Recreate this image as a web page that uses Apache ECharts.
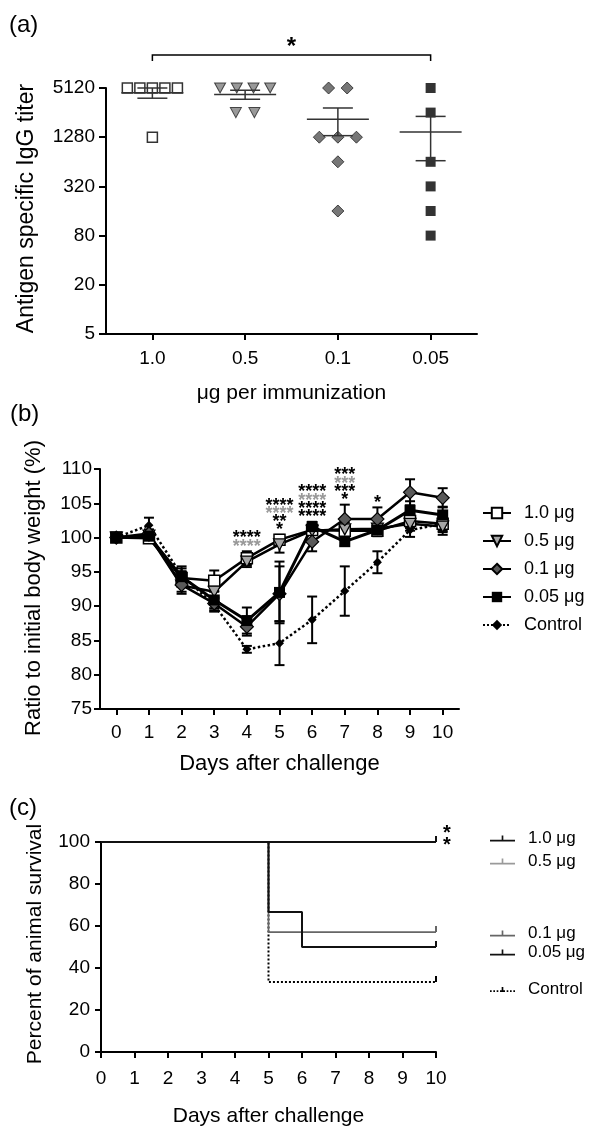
<!DOCTYPE html>
<html>
<head>
<meta charset="utf-8">
<script src="https://cdn.jsdelivr.net/npm/echarts@6/dist/echarts.min.js"></script>
<style>
  html, body { margin: 0; padding: 0; background: #fff; }
  #main { width: 590px; height: 1128px; }
</style>
</head>
<body>
<div id="main"></div>
<script>
// (a) antigen specific IgG titer per mouse
const doseGroups = ['1.0', '0.5', '0.1', '0.05'];
const titerTicks = [5, 20, 80, 320, 1280, 5120];
const titer10 = [5120, 5120, 5120, 5120, 5120, 1280];
const titer05 = [5120, 5120, 5120, 5120, 2560, 2560];
const titer01 = [5120, 5120, 1280, 1280, 1280, 640, 160];
const titer005 = [5120, 2560, 640, 320, 160, 80];
const titerMean = [4480, 4267, 2126, 1480];
const titerSem = [640, 540, 789, 820];

// (b) body weight (% of day 0), mean and SEM
const days = ['0', '1', '2', '3', '4', '5', '6', '7', '8', '9', '10'];
const weight10 = [100, 99.9, 94.1, 93.7, 97.0, 99.7, 101.1, 101.0, 101.0, 102.4, 102.0];
const sem10 = [0, 0.5, 1.0, 1.5, 1.0, 0.7, 0.5, 0.8, 0.8, 1.0, 1.0];
const weight05 = [100, 100.3, 93.0, 92.1, 96.5, 99.0, 101.0, 101.2, 101.3, 102.0, 101.6];
const sem05 = [0, 0.5, 1.2, 1.0, 0.8, 1.2, 0.6, 1.0, 0.7, 1.0, 1.2];
const weight01 = [100, 100.6, 93.1, 90.4, 87.0, 91.8, 99.4, 102.7, 102.7, 106.6, 105.8];
const sem01 = [0, 0.6, 1.0, 1.0, 1.3, 4.0, 1.4, 2.1, 1.7, 1.9, 1.4];
const weight005 = [100, 100.2, 94.3, 90.9, 87.9, 92.0, 101.6, 99.4, 101.1, 104.0, 103.3];
const sem005 = [0, 0.5, 1.5, 1.2, 1.9, 4.5, 0.7, 0.6, 0.7, 1.3, 1.2];
const weightCtrl = [100, 101.8, 94.5, 90.2, 83.7, 84.6, 88.0, 92.2, 96.4, 101.1, 102.0];
const semCtrl = [0, 1.1, 1.0, 1.0, 0.5, 3.2, 3.4, 3.6, 1.6, 1.0, 1.2];
// significance vs control, per day
const sig10 = ['', '', '', '', '****', '****', '****', '***', '', '', ''];
const sig05 = ['', '', '', '', '****', '****', '****', '***', '', '', ''];
const sig01 = ['', '', '', '', '', '**', '****', '***', '*', '', ''];
const sig005 = ['', '', '', '', '', '*', '****', '*', '', '', ''];

// (c) survival [day, percent]
const surv10 = [[0, 100], [10, 100]];
const surv05 = [[0, 100], [10, 100]];
const surv01 = [[0, 100], [5, 57.1], [10, 57.1]];
const surv005 = [[0, 100], [5, 66.7], [6, 50], [10, 50]];
const survCtrl = [[0, 100], [5, 33.3], [10, 33.3]];

const FONT = '"Liberation Sans", Arial, sans-serif';
const chart = echarts.init(document.getElementById('main'));

// log4 scale for titers, 0 = 5
const lg = v => Math.log(v / titerTicks[0]) / Math.log(4);

function jitter(vals, gi) {
  const counts = {}, seen = {};
  vals.forEach(v => { counts[v] = (counts[v] || 0) + 1; });
  return vals.map(v => {
    const n = counts[v];
    const k = seen[v] = seen[v] === undefined ? 0 : seen[v] + 1;
    const step = n > 1 ? Math.min(0.2, 0.54 / (n - 1)) : 0;
    return [gi + (k - (n - 1) / 2) * step, lg(v)];
  });
}

function meanSemItem(params, api) {
  const x = api.value(0);
  const c = api.coord([x, api.value(1)]);
  const hi = api.coord([x, api.value(2)]);
  const lo = api.coord([x, api.value(3)]);
  const st = { stroke: '#333', lineWidth: 1.5 };
  return {
    type: 'group', children: [
      { type: 'line', shape: { x1: c[0] - 31, y1: c[1], x2: c[0] + 31, y2: c[1] }, style: st },
      { type: 'line', shape: { x1: c[0], y1: hi[1], x2: c[0], y2: lo[1] }, style: st },
      { type: 'line', shape: { x1: c[0] - 15, y1: hi[1], x2: c[0] + 15, y2: hi[1] }, style: st },
      { type: 'line', shape: { x1: c[0] - 15, y1: lo[1], x2: c[0] + 15, y2: lo[1] }, style: st }
    ]
  };
}

function starText(x, y, text, size, color) {
  return {
    type: 'text', x: x, y: y + size * 0.24,
    style: { text: text, fill: color, font: 'bold ' + size + 'px ' + FONT,
      align: 'center', verticalAlign: 'middle', textAlign: 'center', textVerticalAlign: 'middle' }
  };
}

function bracketItem(params, api) {
  const l = api.coord([api.value(0), api.value(2)]);
  const r = api.coord([api.value(1), api.value(2)]);
  const yb = l[1] - 33;
  const st = { stroke: '#000', lineWidth: 1.5 };
  return {
    type: 'group', children: [
      { type: 'polyline', shape: { points: [[l[0], yb + 6], [l[0], yb], [r[0], yb], [r[0], yb + 6]] }, style: Object.assign({ fill: null }, st) },
      starText((l[0] + r[0]) / 2, yb - 13, '*', 24, '#000')
    ]
  };
}

function errItem(params, api) {
  const x = api.value(0), m = api.value(1), s = api.value(2);
  if (!s) return null;
  const hi = api.coord([x, m + s]);
  const lo = api.coord([x, m - s]);
  const st = { stroke: '#000', lineWidth: 2 };
  return {
    type: 'group', children: [
      { type: 'line', shape: { x1: hi[0], y1: hi[1], x2: lo[0], y2: lo[1] }, style: st },
      { type: 'line', shape: { x1: hi[0] - 5, y1: hi[1], x2: hi[0] + 5, y2: hi[1] }, style: st },
      { type: 'line', shape: { x1: lo[0] - 5, y1: lo[1], x2: lo[0] + 5, y2: lo[1] }, style: st }
    ]
  };
}

const bodyMeans = [weight10, weight05, weight01, weight005, weightCtrl];
const bodySems = [sem10, sem05, sem01, sem005, semCtrl];
const sigGroups = [sig10, sig05, sig01, sig005];
const sigColors = ['#000', '#999', '#000', '#000'];
const sigData = days.map((d, i) => [i, Math.max.apply(null, bodyMeans.map((m, g) => m[i] + bodySems[g][i]))]);

function sigItem(params, api) {
  const i = params.dataIndex;
  const rows = sigGroups.map((s, g) => ({ t: s[i], c: sigColors[g] })).filter(r => r.t);
  if (!rows.length) return null;
  const p = api.coord([api.value(0), api.value(1)]);
  return {
    type: 'group',
    children: rows.map((r, k) => starText(p[0], p[1] - 9 - (rows.length - 1 - k) * 8.2, r.t, 18, r.c))
  };
}

function survStarItem(params, api) {
  const p = api.coord([api.value(0), api.value(1)]);
  return {
    type: 'group', children: [
      starText(p[0] + 11, p[1] - 13, '*', 20, '#000'),
      starText(p[0] + 11, p[1] - 1, '*', 20, '#000')
    ]
  };
}

const downTri = 'path://M0,0L10,0L5,9Z';

function axisBase(extra) {
  return Object.assign({
    axisLine: { show: true, onZero: false, lineStyle: { color: '#000', width: 2 } },
    axisTick: { show: true, length: 6, lineStyle: { color: '#000', width: 2 } },
    axisLabel: { color: '#000', fontSize: 19, fontFamily: FONT },
    splitLine: { show: false },
    nameLocation: 'middle',
    nameTextStyle: { color: '#000', fontSize: 21, fontFamily: FONT }
  }, extra);
}

function errSeries(name, means, sems) {
  return {
    type: 'custom', name: name, xAxisIndex: 2, yAxisIndex: 1, z: 1, clip: false,
    renderItem: errItem, data: means.map((m, i) => [i, m, sems[i]])
  };
}

function survSeries(name, data, color, width, type, z) {
  return {
    type: 'line', name: name, xAxisIndex: 3, yAxisIndex: 2, step: 'end', z: z,
    symbol: 'none',
    itemStyle: { color: color },
    lineStyle: { color: color, width: width, type: type },
    data: data.map((p, i) => i === data.length - 1
      ? { value: p, symbol: 'rect', symbolSize: [2, 6], symbolOffset: [0, -3] }
      : p)
  };
}

const survIcon = 'path://M0,9L30,9L30,11L0,11Z M14,4L16,4L16,10L14,10Z';
const survDotIcon = 'path://M0,9L2,9L2,11L0,11Z M4,9L6,9L6,11L4,11Z M8,9L10,9L10,11L8,11Z M12,9L18,9L18,11L12,11Z M14,5L16,5L16,10L14,10Z M20,9L22,9L22,11L20,11Z M24,9L26,9L26,11L24,11Z M28,9L30,9L30,11L28,11Z';

function survLegend(names, top, gap) {
  return {
    data: names.map(n => ({ name: n, icon: n === 'c:Control' ? survDotIcon : survIcon })),
    formatter: n => n.slice(2),
    orient: 'vertical', left: 490, top: top, padding: 0,
    itemWidth: 25, itemHeight: 10, itemGap: gap,
    textStyle: { fontSize: 17, color: '#000', fontFamily: FONT, padding: [0, 0, 0, 8] }
  };
}

const option = {
  animation: false,
  backgroundColor: '#fff',
  textStyle: { fontFamily: FONT, color: '#000' },
  graphic: [
    { type: 'text', left: 9, top: 13, style: { text: '(a)', font: '24px ' + FONT, fill: '#000' } },
    { type: 'text', left: 10, top: 402, style: { text: '(b)', font: '24px ' + FONT, fill: '#000' } },
    { type: 'text', left: 9, top: 796, style: { text: '(c)', font: '24px ' + FONT, fill: '#000' } }
  ],
  grid: [
    { left: 106, top: 88, width: 371, height: 246 },
    { left: 100, top: 469, width: 359, height: 240 },
    { left: 101, top: 842, width: 335, height: 217 }
  ],
  legend: [
    {
      data: ['1.0 μg', '0.5 μg', '0.1 μg', '0.05 μg', 'Control'],
      orient: 'vertical', left: 482, top: 504, padding: 0,
      itemWidth: 28, itemHeight: 13, itemGap: 10,
      textStyle: { fontSize: 18, color: '#000', fontFamily: FONT, padding: [0, 0, 0, 8] }
    },
    survLegend(['c:1.0 μg', 'c:0.5 μg'], 830, 6),
    survLegend(['c:0.1 μg', 'c:0.05 μg'], 925, 2),
    survLegend(['c:Control'], 981, 2)
  ],
  xAxis: [
    axisBase({
      type: 'category', gridIndex: 0, data: doseGroups, boundaryGap: true,
      axisTick: { show: true, alignWithLabel: true, length: 6, lineStyle: { color: '#000', width: 2 } },
      axisLabel: { color: '#000', fontSize: 19, fontFamily: FONT, margin: 15 },
      name: 'μg per immunization', nameGap: 49
    }),
    { type: 'value', gridIndex: 0, min: -0.5, max: 3.5, show: false },
    axisBase({
      type: 'category', gridIndex: 1, data: days, boundaryGap: true,
      axisTick: { show: true, alignWithLabel: true, length: 6, lineStyle: { color: '#000', width: 2 } },
      axisLabel: { color: '#000', fontSize: 19, fontFamily: FONT, margin: 14 },
      name: 'Days after challenge', nameGap: 44,
      nameTextStyle: { color: '#000', fontSize: 22, fontFamily: FONT }
    }),
    axisBase({
      type: 'value', gridIndex: 2, min: 0, max: 10, interval: 1,
      axisLabel: { color: '#000', fontSize: 19, fontFamily: FONT, margin: 17 },
      name: 'Days after challenge', nameGap: 54
    })
  ],
  yAxis: [
    axisBase({
      type: 'value', gridIndex: 0, min: 0, max: 5, interval: 1,
      axisTick: { show: true, length: 7, lineStyle: { color: '#000', width: 2 } },
      axisLabel: { color: '#000', fontSize: 19, fontFamily: FONT, margin: 11,
        formatter: v => String(titerTicks[Math.round(v)]) },
      name: 'Antigen specific IgG titer', nameGap: 68,
      nameTextStyle: { color: '#000', fontSize: 23, fontFamily: FONT, padding: [0, 0, 0, 5] }
    }),
    axisBase({
      type: 'value', gridIndex: 1, min: 75, max: 110, interval: 5,
      axisLabel: { color: '#000', fontSize: 19, fontFamily: FONT, margin: 8 },
      name: 'Ratio to initial body weight (%)', nameGap: 55,
      nameTextStyle: { color: '#000', fontSize: 22, fontFamily: FONT, padding: [0, 0, 0, 2] }
    }),
    axisBase({
      type: 'value', gridIndex: 2, min: 0, max: 100, interval: 20,
      axisLabel: { color: '#000', fontSize: 19, fontFamily: FONT, margin: 11 },
      name: 'Percent of animal survival', nameGap: 55,
      nameTextStyle: { color: '#000', fontSize: 21, fontFamily: FONT, padding: [0, 0, 0, 6] }
    })
  ],
  series: [
    // (a)
    { type: 'scatter', name: 'a1.0', xAxisIndex: 1, yAxisIndex: 0, symbol: 'rect', symbolSize: 10,
      itemStyle: { color: '#fff', borderColor: '#000', borderWidth: 1.5 }, data: jitter(titer10, 0) },
    { type: 'scatter', name: 'a0.5', xAxisIndex: 1, yAxisIndex: 0, symbol: downTri, symbolSize: [11, 10],
      itemStyle: { color: '#808080', borderColor: '#222', borderWidth: 1 }, data: jitter(titer05, 1) },
    { type: 'scatter', name: 'a0.1', xAxisIndex: 1, yAxisIndex: 0, symbol: 'diamond', symbolSize: 12,
      itemStyle: { color: '#555', borderColor: '#222', borderWidth: 1 }, data: jitter(titer01, 2) },
    { type: 'scatter', name: 'a0.05', xAxisIndex: 1, yAxisIndex: 0, symbol: 'rect', symbolSize: 10,
      itemStyle: { color: '#000' }, data: jitter(titer005, 3) },
    { type: 'custom', name: 'aMean', xAxisIndex: 1, yAxisIndex: 0, z: 3, clip: false, renderItem: meanSemItem,
      data: titerMean.map((m, i) => [i, lg(m), lg(m + titerSem[i]), lg(m - titerSem[i])]) },
    { type: 'custom', name: 'aSig', xAxisIndex: 1, yAxisIndex: 0, clip: false, renderItem: bracketItem,
      data: [[0, 3, lg(titerTicks[titerTicks.length - 1])]] },

    // (b)
    errSeries('e-ctrl', weightCtrl, semCtrl),
    errSeries('e-1.0', weight10, sem10),
    errSeries('e-0.5', weight05, sem05),
    errSeries('e-0.1', weight01, sem01),
    errSeries('e-0.05', weight005, sem005),
    { type: 'line', name: 'Control', xAxisIndex: 2, yAxisIndex: 1, z: 2, symbol: 'diamond', symbolSize: 9,
      itemStyle: { color: '#000' }, lineStyle: { color: '#000', width: 2.5, type: 'dotted' }, data: weightCtrl },
    { type: 'line', name: '1.0 μg', xAxisIndex: 2, yAxisIndex: 1, z: 3, symbol: 'rect', symbolSize: 11,
      itemStyle: { color: '#fff', borderColor: '#000', borderWidth: 1.5 }, lineStyle: { color: '#000', width: 2.5 }, data: weight10 },
    { type: 'line', name: '0.5 μg', xAxisIndex: 2, yAxisIndex: 1, z: 3, symbol: downTri, symbolSize: [12, 11],
      itemStyle: { color: '#a6a6a6', borderColor: '#000', borderWidth: 1.2 }, lineStyle: { color: '#000', width: 2.5 }, data: weight05 },
    { type: 'line', name: '0.1 μg', xAxisIndex: 2, yAxisIndex: 1, z: 3, symbol: 'diamond', symbolSize: 13,
      itemStyle: { color: '#5a5a5a', borderColor: '#000', borderWidth: 1.2 }, lineStyle: { color: '#000', width: 2.5 }, data: weight01 },
    { type: 'line', name: '0.05 μg', xAxisIndex: 2, yAxisIndex: 1, z: 3, symbol: 'rect', symbolSize: 11,
      itemStyle: { color: '#000' }, lineStyle: { color: '#000', width: 3 }, data: weight005 },
    { type: 'custom', name: 'bSig', xAxisIndex: 2, yAxisIndex: 1, z: 4, clip: false, renderItem: sigItem, data: sigData },

    // (c)
    survSeries('c:Control', survCtrl, '#000', 2, 'dotted', 2),
    survSeries('c:0.5 μg', surv05, '#9a9a9a', 2, 'solid', 3),
    survSeries('c:0.1 μg', surv01, '#666', 1.6, 'solid', 3),
    survSeries('c:0.05 μg', surv005, '#111', 2, 'solid', 4),
    survSeries('c:1.0 μg', surv10, '#111', 2, 'solid', 4),
    { type: 'custom', name: 'cSig', xAxisIndex: 3, yAxisIndex: 2, clip: false, renderItem: survStarItem,
      data: [[10, 100]] }
  ]
};

chart.setOption(option);
</script>
</body>
</html>
